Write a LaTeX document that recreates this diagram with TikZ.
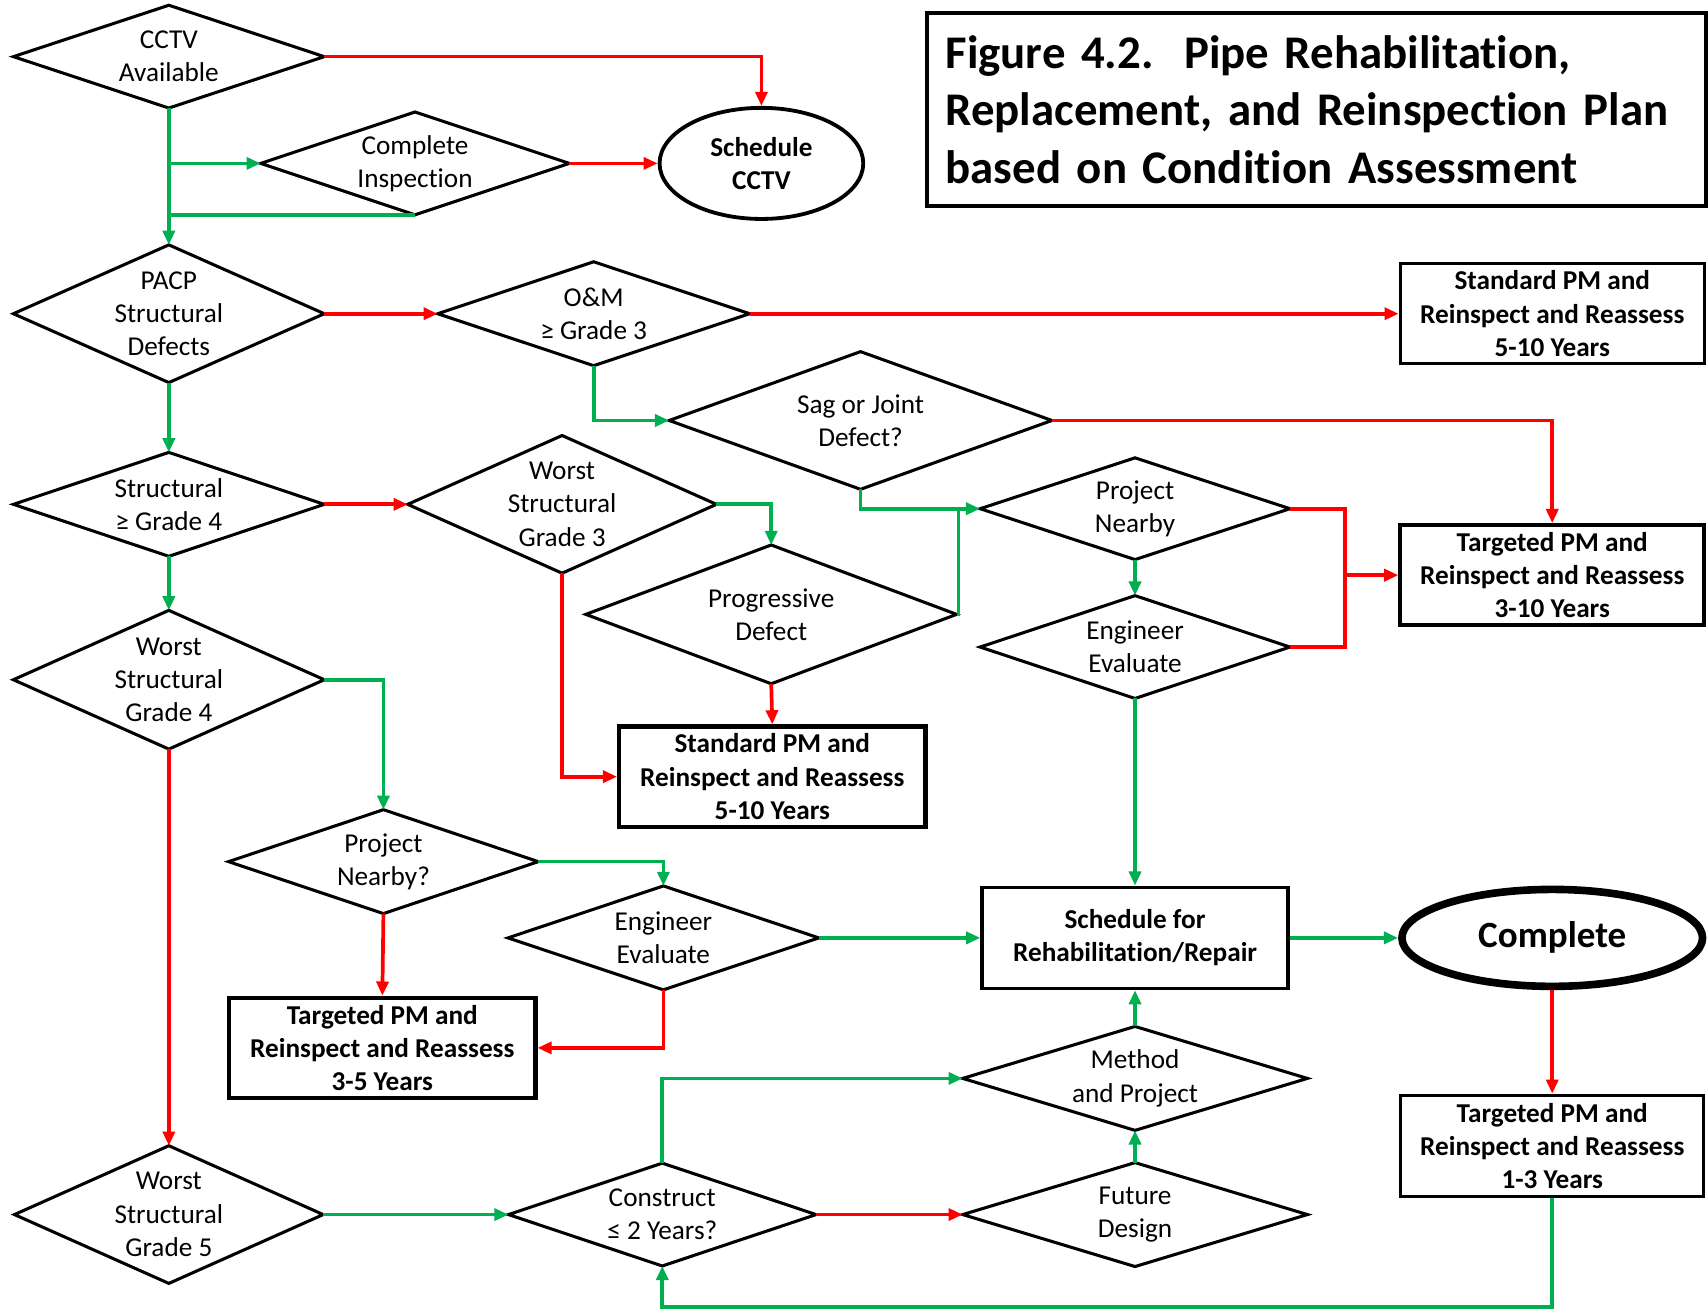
\documentclass[tikz,border=0pt]{standalone}
\usepackage{fontspec}
\setmainfont{Carlito}[Ligatures={NoCommon}]
\usetikzlibrary{arrows.meta,shapes.geometric,calc}
\definecolor{grn}{RGB}{0,176,80}
\definecolor{rd}{RGB}{255,0,0}
\begin{document}
\begin{tikzpicture}[x=1pt,y=-1pt,
 dia/.style={align=center, inner sep=0pt, font=\fontsize{25}{30.5}\selectfont},
 bx/.style={draw, line width=3pt, align=center, inner sep=0pt, font=\fontsize{25}{30.5}\selectfont\bfseries},
 oval/.style={ellipse, draw, align=center, inner sep=0pt},
 G/.style={draw=grn, line width=3.4pt, -{Triangle[length=13pt,width=11pt]}},
 Gn/.style={draw=grn, line width=3.4pt},
 R/.style={draw=rd, line width=3.4pt, -{Triangle[length=13pt,width=11pt]}},
 Rn/.style={draw=rd, line width=3.4pt},
]
\useasboundingbox (0,0) rectangle (1568,1203);
\fill[white] (0,0) rectangle (1568,1203);

% title
\node[draw, line width=4pt, minimum width=715, minimum height=177, text width=681, align=left, inner sep=0pt,
  font=\fontsize{43}{53}\selectfont\bfseries] (title) at (1208.5,100.5)
  {Figure 4.2.\hspace{28pt}Pipe Rehabilitation,\\Replacement, and Reinspection Plan\\based on Condition Assessment};

% nodes
\node[dia, minimum width=285, minimum height=94] (cctv) at (155,52) {CCTV\\Available};
\node[dia, minimum width=283, minimum height=94] (cis) at (381,150) {Complete\\Inspection};
\node[oval, line width=3.5pt, minimum width=187, minimum height=102, font=\fontsize{25}{30.5}\selectfont\bfseries] (sch) at (699,150) {Schedule\\CCTV};
\node[dia, minimum width=285, minimum height=126] (pacp) at (155,288) {PACP\\Structural\\Defects};
\node[dia, minimum width=286, minimum height=95] (om) at (545,288) {O\&M\\≥ Grade 3};
\node[bx, minimum width=279, minimum height=92] (std1) at (1425,288) {Standard PM and\\Reinspect and Reassess\\5-10 Years};
\node[dia, minimum width=351, minimum height=126] (sag) at (790,386) {Sag or Joint\\Defect?};
\node[dia, minimum width=284, minimum height=93] (pn1) at (1042,467) {Project\\Nearby};
\node[dia, minimum width=284, minimum height=94] (ee1) at (1042,594) {Engineer\\Evaluate};
\node[bx, line width=3.5pt, minimum width=279, minimum height=92] (tgt310) at (1425,528) {Targeted PM and\\Reinspect and Reassess\\3-10 Years};
\node[dia, minimum width=285, minimum height=95] (sg4) at (155,463) {Structural\\≥ Grade 4};
\node[dia, minimum width=283, minimum height=126] (wsg3) at (516,463) {Worst\\Structural\\Grade 3};
\node[dia, minimum width=340, minimum height=127] (prog) at (708,564) {Progressive\\Defect};
\node[bx, line width=4pt, minimum width=281, minimum height=92] (std2) at (709,713) {Standard PM and\\Reinspect and Reassess\\5-10 Years};
\node[dia, minimum width=285, minimum height=127] (wsg4) at (155,624) {Worst\\Structural\\Grade 4};
\node[dia, minimum width=284, minimum height=95] (pn2) at (352,791) {Project\\Nearby?};
\node[dia, minimum width=285, minimum height=95] (ee2) at (609,861) {Engineer\\Evaluate};
\node[bx, line width=4pt, minimum width=281, minimum height=92] (tgt35) at (351,962) {Targeted PM and\\Reinspect and Reassess\\3-5 Years};
\node[bx, minimum width=281, minimum height=93] (rehab) at (1042,861) {Schedule for\\Rehabilitation/Repair};
\node[oval, line width=7pt, minimum width=276, minimum height=89, font=\fontsize{34}{40}\selectfont\bfseries] (done) at (1425,861) {Complete};
\node[bx, minimum width=278, minimum height=93] (tgt13) at (1425,1052) {Targeted PM and\\Reinspect and Reassess\\1-3 Years};
\node[dia, minimum width=316, minimum height=95] (mp) at (1042,990) {Method\\and Project};
\node[dia, minimum width=316, minimum height=95] (fd) at (1042,1115) {Future\\Design};
\node[dia, minimum width=282, minimum height=94] (con) at (608,1115) {Construct\\≤ 2 Years?};
\node[dia, minimum width=283, minimum height=126] (wsg5) at (155,1115) {Worst\\Structural\\Grade 5};

\foreach \n in {cctv,cis,pacp,om,sag,pn1,ee1,sg4,wsg3,prog,wsg4,pn2,ee2,mp,fd,con,wsg5}
  \draw[line width=2.8pt] (\n.west) -- (\n.north) -- (\n.east) -- (\n.south) -- cycle;

% connectors
\draw[R] (cctv.east) -| (sch.north);
\draw[G] (cctv.south) -- (pacp.north);
\draw[G] (cctv.south |- cis.west) -- (cis.west);
\draw[Gn] (cis.south) -- (cctv.south |- cis.south);
\draw[R] (cis.east) -- (sch.west);
\draw[R] (pacp.east) -- (om.west);
\draw[R] (om.east) -- (std1.west);
\draw[G] (om.south) |- (sag.west);
\draw[R] (sag.east) -| (tgt310.north);
\coordinate (j1) at ($(pn1.west)+(-20,0)$);
\draw[G] (sag.south) |- (pn1.west);
\draw[Gn] (prog.east) -| (j1);
\coordinate (j2) at ($(tgt310.west)+(-49,0)$);
\draw[Rn] (pn1.east) -| (j2);
\draw[Rn] (ee1.east) -| (j2);
\draw[R] (j2) -- (tgt310.west);
\draw[G] (pn1.south) -- (ee1.north);
\draw[G] (ee1.south) -- (rehab.north);
\draw[G] (pacp.south) -- (sg4.north);
\draw[R] (sg4.east) -- (wsg3.west);
\draw[G] (wsg3.east) -| (prog.north);
\draw[R] (prog.south) -- (std2.north);
\draw[R] (wsg3.south) |- (std2.west);
\draw[G] (sg4.south) -- (wsg4.north);
\draw[G] (wsg4.east) -| (pn2.north);
\draw[R] (wsg4.south) -- (wsg5.north);
\draw[G] (pn2.east) -| (ee2.north);
\draw[R] (pn2.south) -- (tgt35.north);
\draw[G] (ee2.east) -- (rehab.west);
\draw[R] (ee2.south) |- (tgt35.east);
\draw[G] (rehab.east) -- (done.west);
\draw[R] (done.south) -- (tgt13.north);
\coordinate (j3) at ($(tgt13.south)+(0,100)$);
\draw[G] (tgt13.south) -- (j3) -| (con.south);
\draw[G] (mp.north) -- (rehab.south);
\draw[G] (fd.north) -- (mp.south);
\draw[G] (con.north) |- (mp.west);
\draw[R] (con.east) -- (fd.west);
\draw[G] (wsg5.east) -- (con.west);
\end{tikzpicture}
\end{document}
